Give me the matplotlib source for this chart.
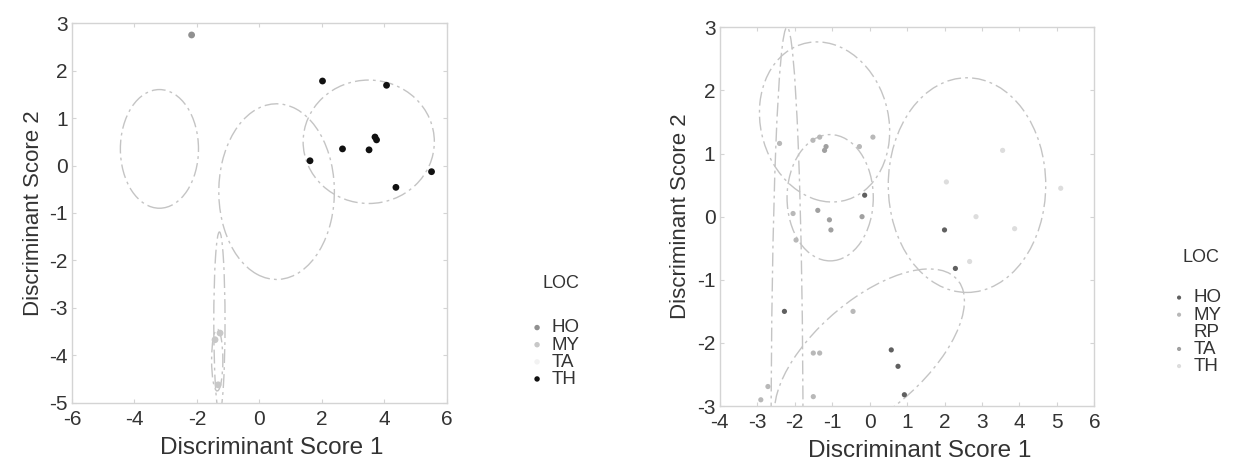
import matplotlib.pyplot as plt
from matplotlib.patches import Ellipse

plt.rcParams['font.family'] = ['Liberation Sans', 'DejaVu Sans']
plt.rcParams['axes.unicode_minus'] = False

# Left panel: points per location
left_groups = ['HO', 'MY', 'TA', 'TH']
left_x = {
    'HO': [-2.17],
    'MY': [-1.42, -1.26, -1.32],
    'TA': [],
    'TH': [2.02, 4.07, 2.66, 3.51, 3.75, 3.70, 1.62, 4.37, 5.51],
}
left_y = {
    'HO': [2.75],
    'MY': [-3.67, -3.53, -4.62],
    'TA': [],
    'TH': [1.78, 1.69, 0.35, 0.33, 0.54, 0.60, 0.10, -0.46, -0.13],
}
# ellipses: (cx, cy, width, height, angle)
left_ellipses = [
    (3.5, 0.5, 4.2, 2.6, 0),
    (0.55, -0.55, 3.7, 3.7, -20),
    (-3.2, 0.35, 2.5, 2.5, 0),
    (-1.28, -3.3, 0.36, 3.8, 0),
    (-1.35, -4.1, 0.36, 1.3, 0),
]

# Right panel
right_groups = ['HO', 'MY', 'RP', 'TA', 'TH']
right_x = {
    'HO': [2.0, 2.29, 0.76, -0.13, 0.58, 0.93, -2.27],
    'MY': [-1.33, -1.51, -2.4, -0.27, 0.09, -2.04, -1.96, -0.44, -1.33, -1.5, -1.5, -2.71, -2.9],
    'RP': [],
    'TA': [-1.16, -1.2, -1.38, -1.07, -1.03, -0.2],
    'TH': [2.05, 2.84, 3.55, 3.87, 2.67, 5.1],
}
right_y = {
    'HO': [-0.21, -0.82, -2.37, 0.34, -2.11, -2.82, -1.5],
    'MY': [1.26, 1.21, 1.16, 1.11, 1.26, 0.05, -0.37, -1.5, -2.16, -2.16, -2.85, -2.69, -2.9],
    'RP': [],
    'TA': [1.11, 1.05, 0.1, -0.05, -0.21, 0.0],
    'TH': [0.55, 0.0, 1.05, -0.19, -0.71, 0.45],
}
right_ellipses = [
    (2.6, 0.5, 4.2, 3.4, 0),
    (0.0, -2.2, 5.4, 2.0, 22),
    (-1.05, 0.3, 2.3, 2.0, 0),
    (-1.2, 1.5, 3.5, 2.5, -10),
    (-2.2, -3.5, 0.85, 13.0, 0),
]

left_colors = {'HO': '#909090', 'MY': '#c8c8c8', 'TA': '#f2f2f2', 'TH': '#111111'}
right_colors = {'HO': '#606060', 'MY': '#b8b8b8', 'RP': '#ffffff', 'TA': '#a0a0a0', 'TH': '#dddddd'}

fig = plt.figure(figsize=(12.58, 4.62), dpi=100)
ax1 = fig.add_axes([0.0572, 0.128, 0.298, 0.822])
ax2 = fig.add_axes([0.572, 0.121, 0.298, 0.820])

text_col = '#333333'
frame_col = '#d4d4d4'
ell_col = '#c4c4c4'


def style(ax, xlim, ylim, xticks, yticks):
    ax.set_xlim(*xlim)
    ax.set_ylim(*ylim)
    ax.set_xticks(xticks)
    ax.set_yticks(yticks)
    ax.tick_params(direction='in', length=3, color=frame_col, labelsize=15,
                   labelcolor=text_col, top=True, right=True)
    ax.tick_params(axis='x', pad=5)
    ax.tick_params(axis='y', pad=3)
    for s in ax.spines.values():
        s.set_color(frame_col)
        s.set_linewidth(1)
    ax.set_xlabel('Discriminant Score 1', fontsize=17.5, color=text_col, labelpad=6)
    ax.xaxis.label.set_x(0.533)
    ax.set_ylabel('Discriminant Score 2', fontsize=16, color=text_col, labelpad=4)


style(ax1, (-6, 6), (-5, 3), range(-6, 7, 2), range(-5, 4))
style(ax2, (-4, 6), (-3, 3), range(-4, 7), range(-3, 4))

for cx, cy, w, h, a in left_ellipses:
    ax1.add_patch(Ellipse((cx, cy), w, h, angle=a, fill=False, ec=ell_col,
                          lw=1, ls=(0, (10, 3, 2, 3))))
for cx, cy, w, h, a in right_ellipses:
    ax2.add_patch(Ellipse((cx, cy), w, h, angle=a, fill=False, ec=ell_col,
                          lw=1, ls=(0, (10, 3, 2, 3))))

for g in left_groups:
    ax1.scatter(left_x[g], left_y[g], s=24, color=left_colors[g], label=g,
                edgecolors='none', zorder=3)
for g in right_groups:
    ax2.scatter(right_x[g], right_y[g], s=14, color=right_colors[g], label=g,
                edgecolors='none', zorder=3)

# legend title sits apart from the entries
for ax, tx, ty, lx, ly in [(ax1, 543, 283, 523, 310), (ax2, 1183, 258, 1165, 280)]:
    fig.text(tx / 1258, 1 - ty / 462, 'LOC', fontsize=13, color=text_col,
             va='center', ha='left')
    leg = ax.legend(loc='upper left', bbox_to_anchor=(lx / 1258, 1 - ly / 462),
                    bbox_transform=fig.transFigure, frameon=False,
                    fontsize=13.5, handlelength=0.5, handletextpad=0.5,
                    labelspacing=0.0, borderpad=0, markerscale=0.8)
    for t in leg.get_texts():
        t.set_color(text_col)

fig.savefig('out.png', dpi=100)
